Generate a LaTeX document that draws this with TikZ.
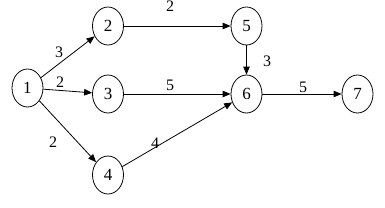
\documentclass[tikz,border=0pt]{standalone}
\usepackage{fontspec}
\setmainfont{Liberation Serif}
\usetikzlibrary{shapes.geometric,arrows.meta}
\begin{document}
\begin{tikzpicture}[x=1pt,y=-1pt,
  ev/.style={draw,ellipse,line width=0.8pt,minimum width=31pt,minimum height=38pt,inner sep=0pt,font=\fontsize{17}{17}\selectfont},
  act/.style={line width=0.8pt,-{Triangle[length=8pt,width=6.5pt]}},
  lab/.style={font=\fontsize{16}{16}\selectfont,inner sep=0pt}]
\useasboundingbox (0,0) rectangle (385,207);
\node[ev] (n1) at (27.5,88) {1};
\node[ev] (n2) at (108,26) {2};
\node[ev] (n3) at (108,94) {3};
\node[ev] (n4) at (108,175) {4};
\node[ev] (n5) at (246.5,26) {5};
\node[ev] (n6) at (246.5,94) {6};
\node[ev] (n7) at (357.5,94) {7};
\draw[act] (n1) -- (n2);
\draw[act] (n1) -- (n3);
\draw[act] (n1) -- (n4);
\draw[act] (n2) -- (n5);
\draw[act] (n3) -- (n6);
\draw[act] (n4) -- (n6);
\draw[act] (n5) -- (n6);
\draw[act] (n6) -- (n7);
\node[lab] (l12) at (59,52) {3};
\node[lab] (l13) at (60,82) {2};
\node[lab] (l14) at (53,142) {2};
\node[lab] (l25) at (170,6) {2};
\node[lab] (l36) at (170,85) {5};
\node[lab] (l46) at (155,143) {4};
\node[lab] (l56) at (267,61) {3};
\node[lab] (l67) at (303,87) {5};
\end{tikzpicture}
\end{document}
